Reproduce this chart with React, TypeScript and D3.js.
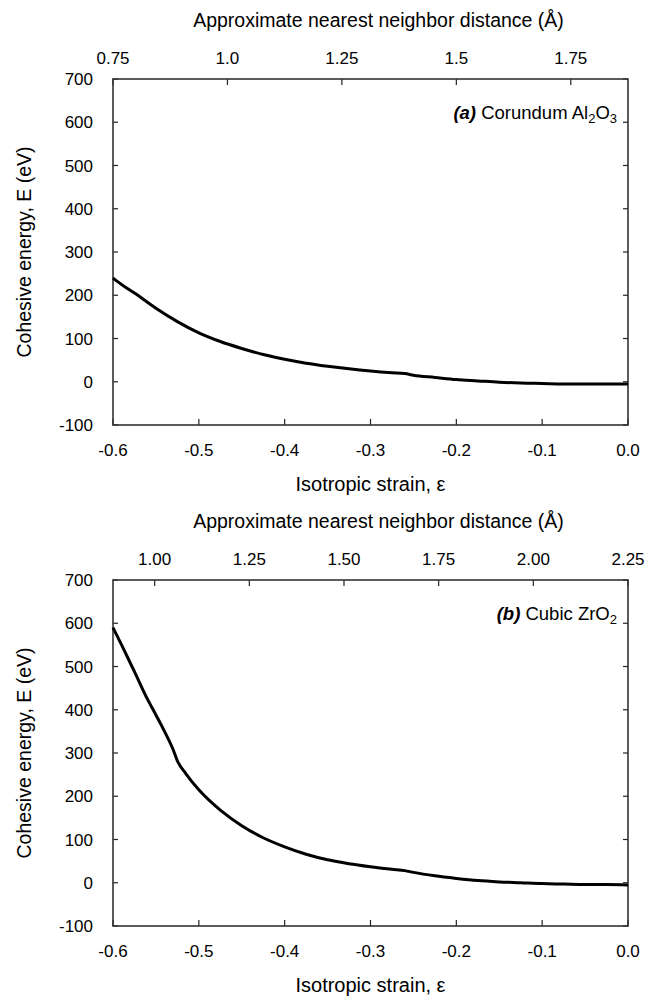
import React from "react";
import * as d3 from "d3";

const strainTicks = [-0.6, -0.5, -0.4, -0.3, -0.2, -0.1, 0.0];
const strainTickLabels = ["-0.6", "-0.5", "-0.4", "-0.3", "-0.2", "-0.1", "0.0"];
const energyTicks = [-100, 0, 100, 200, 300, 400, 500, 600, 700];

const distTicksA = [0.75, 1.0, 1.25, 1.5, 1.75];
const distLabelsA = ["0.75", "1.0", "1.25", "1.5", "1.75"];
const distTicksB = [1.0, 1.25, 1.5, 1.75, 2.0, 2.25];
const distLabelsB = ["1.00", "1.25", "1.50", "1.75", "2.00", "2.25"];

const strainA = [-0.6, -0.595, -0.585, -0.575, -0.55, -0.525, -0.5, -0.475, -0.45, -0.425, -0.4, -0.375, -0.35, -0.325, -0.3, -0.275, -0.26, -0.25, -0.225, -0.2, -0.175, -0.15, -0.125, -0.1, -0.075, -0.05, -0.025, 0];
const energyA = [240, 232, 218, 205, 170, 139, 113, 93, 77, 63, 52, 43, 36, 30, 25, 21, 19, 15, 10, 5, 2, -1, -3, -4, -5, -5, -5, -5];

const strainB = [-0.6, -0.59, -0.575, -0.56, -0.55, -0.54, -0.53, -0.525, -0.515, -0.5, -0.475, -0.45, -0.425, -0.4, -0.375, -0.35, -0.325, -0.3, -0.275, -0.26, -0.25, -0.225, -0.2, -0.175, -0.15, -0.125, -0.1, -0.075, -0.05, -0.025, 0];
const energyB = [590, 550, 488, 425, 388, 350, 308, 282, 252, 215, 168, 132, 104, 83, 66, 53, 44, 37, 31, 28, 24, 16, 10, 5, 2, 0, -2, -3, -4, -4, -5];

const FONT = "'Liberation Sans', Arial, Helvetica, sans-serif";

type PanelProps = {
  top: number;
  distDomain: [number, number];
  distTicks: number[];
  distLabels: string[];
  xs: number[];
  ys: number[];
  tag: string;
  name: string;
  formula: [string, string][];
};

function Panel({ top, distDomain, distTicks, distLabels, xs, ys, tag, name, formula }: PanelProps) {
  const left = 113;
  const right = 628;
  const h = 346;
  const bottom = top + h;
  const x = d3.scaleLinear().domain([-0.6, 0]).range([left, right]);
  const xTop = d3.scaleLinear().domain(distDomain).range([left, right]);
  const y = d3.scaleLinear().domain([-100, 700]).range([bottom, top]);
  const line = d3
    .line<number>()
    .x((_, i) => x(xs[i]))
    .y((d) => y(d))
    .curve(d3.curveMonotoneX);
  const cx = (left + right) / 2;
  const tickLen = 5;
  return (
    <g fontFamily={FONT} fill="#000">
      <text x={cx + 8} y={top - 52} fontSize={19.5} textAnchor="middle">
        Approximate nearest neighbor distance (Å)
      </text>
      {distTicks.map((t, i) => (
        <g key={"tt" + i}>
          <line x1={xTop(t)} x2={xTop(t)} y1={top} y2={top + tickLen + 1} stroke="#222" strokeWidth={1.2} />
          <text x={xTop(t)} y={top - 15} fontSize={17} textAnchor="middle">
            {distLabels[i]}
          </text>
        </g>
      ))}
      {strainTicks.map((t, i) => (
        <g key={"bt" + i}>
          <line x1={x(t)} x2={x(t)} y1={bottom} y2={bottom - tickLen - 1} stroke="#222" strokeWidth={1.2} />
          <text x={x(t)} y={bottom + 31} fontSize={17} textAnchor="middle">
            {strainTickLabels[i]}
          </text>
        </g>
      ))}
      {energyTicks.map((t, i) => (
        <g key={"yt" + i}>
          <line x1={left} x2={left + tickLen} y1={y(t)} y2={y(t)} stroke="#222" strokeWidth={1.2} />
          <line x1={right} x2={right - tickLen} y1={y(t)} y2={y(t)} stroke="#222" strokeWidth={1.2} />
          <text x={93} y={y(t)} dy="0.36em" fontSize={17} textAnchor="end">
            {String(t)}
          </text>
        </g>
      ))}
      <rect x={left} y={top} width={right - left} height={h} fill="none" stroke="#333" strokeWidth={1.6} />
      <path d={line(ys) || ""} fill="none" stroke="#000" strokeWidth={3} strokeLinejoin="round" />
      <text x={cx} y={bottom + 66} fontSize={20} textAnchor="middle">
        Isotropic strain, ε
      </text>
      <text
        transform={`translate(24,${(top + bottom) / 2}) rotate(-90)`}
        fontSize={19.5}
        textAnchor="middle"
        dy="0.35em"
      >
        Cohesive energy, E (eV)
      </text>
      <text x={617} y={top + 40} fontSize={18.5} textAnchor="end">
        <tspan fontWeight="bold" fontStyle="italic">{tag}</tspan>
        <tspan>{" " + name + " "}</tspan>
        {formula.map(([el, sub], i) => (
          <React.Fragment key={i}>
            <tspan dy={i === 0 ? 0 : -4}>{el}</tspan>
            <tspan fontSize={13} dy={4}>{sub}</tspan>
          </React.Fragment>
        ))}
      </text>
    </g>
  );
}

export default function App() {
  return (
    <svg
      width={652}
      height={998}
      style={{ position: "absolute", left: 0, top: 0, background: "#fff" }}
    >
      <rect width={652} height={998} fill="#fff" />
      <Panel
        top={79}
        distDomain={[0.75, 1.875]}
        distTicks={distTicksA}
        distLabels={distLabelsA}
        xs={strainA}
        ys={energyA}
        tag="(a)"
        name="Corundum"
        formula={[["Al", "2"], ["O", "3"]]}
      />
      <Panel
        top={580}
        distDomain={[0.89, 2.25]}
        distTicks={distTicksB}
        distLabels={distLabelsB}
        xs={strainB}
        ys={energyB}
        tag="(b)"
        name="Cubic"
        formula={[["ZrO", "2"]]}
      />
    </svg>
  );
}
